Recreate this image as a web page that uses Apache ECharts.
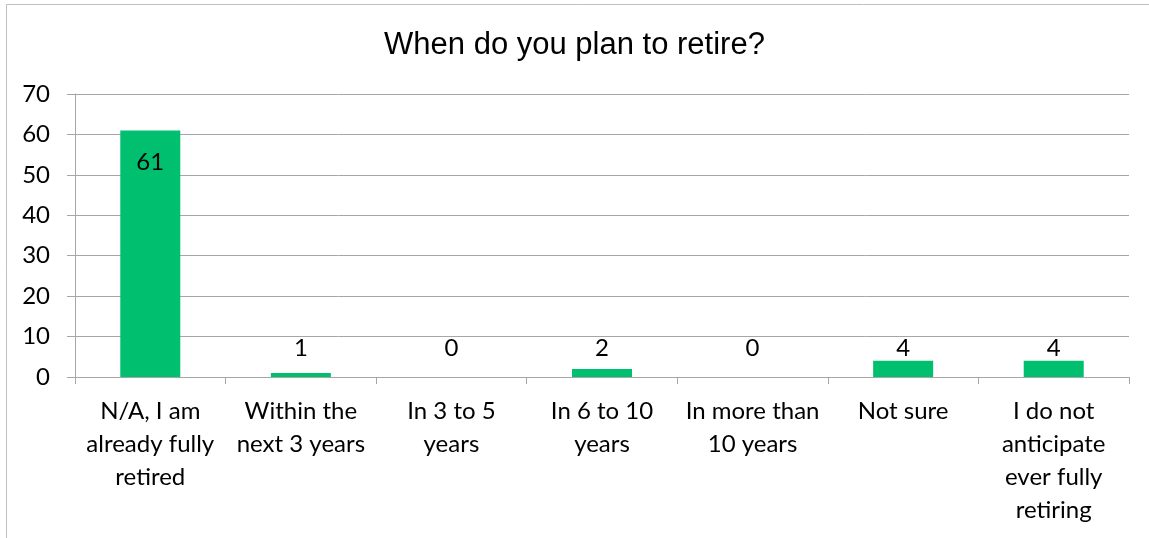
<!DOCTYPE html>
<html><head><meta charset="utf-8">
<script src="https://cdn.jsdelivr.net/npm/echarts@6/dist/echarts.min.js"></script>
<style>html,body{margin:0;padding:0;background:#fff}#c{width:1149px;height:538px}</style>
</head><body><div id="c"></div>
<script>
const categories = [
  "N/A, I am\nalready fully\nretired",
  "Within the\nnext 3 years",
  "In 3 to 5\nyears",
  "In 6 to 10\nyears",
  "In more than\n10 years",
  "Not sure",
  "I do not\nanticipate\never fully\nretiring"
];
const values = [61, 1, 0, 2, 0, 4, 4];
const yTicks = { min: 0, max: 70, interval: 10 };
const titleText = "When do you plan to retire?";

const FONT = "Lato, 'Noto Sans', sans-serif";
const chart = echarts.init(document.getElementById('c'));
chart.setOption({
  animation: false,
  backgroundColor: '#fff',
  title: {
    text: titleText, left: 'center', top: 25,
    textStyle: { fontFamily: "'Liberation Sans', Arial, sans-serif", fontWeight: 'normal', fontSize: 31, color: '#000' }
  },
  graphic: [
    { type: 'line', shape: { x1: 6.5, y1: 4.5, x2: 1149, y2: 4.5 }, style: { stroke: '#bfbfbf', lineWidth: 1 } },
    { type: 'line', shape: { x1: 6.5, y1: 4.5, x2: 6.5, y2: 538 }, style: { stroke: '#bfbfbf', lineWidth: 1 } }
  ],
  grid: { left: 75, right: 20, top: 94, height: 283, containLabel: false },
  xAxis: {
    type: 'category', data: categories,
    axisLine: { lineStyle: { color: '#a6a6a6' } },
    axisTick: { show: true, length: 7, lineStyle: { color: '#a6a6a6' } },
    axisLabel: { color: '#000', fontFamily: FONT, fontSize: 24, lineHeight: 33, margin: 18, interval: 0 }
  },
  yAxis: {
    type: 'value', min: yTicks.min, max: yTicks.max, interval: yTicks.interval,
    axisLine: { show: true, lineStyle: { color: '#a6a6a6' } },
    axisTick: { show: true, length: 8, lineStyle: { color: '#a6a6a6' } },
    splitLine: { lineStyle: { color: '#a6a6a6' } },
    axisLabel: { color: '#000', fontFamily: FONT, fontSize: 24, margin: 25 }
  },
  series: [{
    type: 'bar', data: values.map(v => v > 30 ? { value: v, label: { position: 'insideTop', distance: 20 } } : v),
    barWidth: 60,
    itemStyle: { color: '#00bf6f' },
    label: { show: true, position: 'insideBottom', distance: 17, color: '#000', fontFamily: FONT, fontSize: 24 }
  }]
});
</script></body></html>
